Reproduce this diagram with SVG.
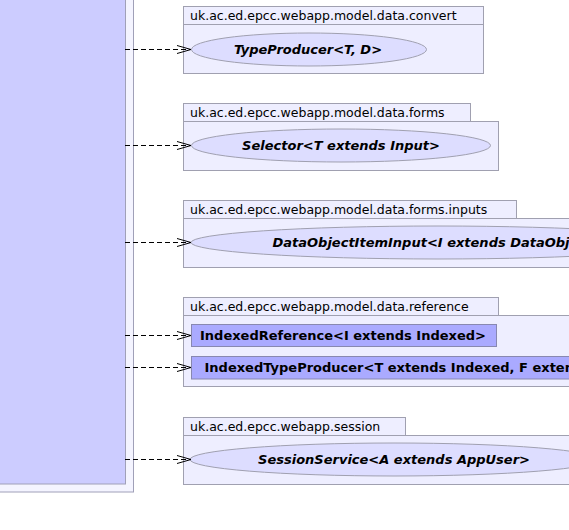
<svg xmlns="http://www.w3.org/2000/svg" width="569" height="530" viewBox="0 0 569 530">
<defs>
<style>
.bg{fill:#ffffff}
.outer{fill:#f4f4ff;stroke:#a0a0b8;stroke-width:1}
.inner{fill:#ccccff;stroke:#a0a0b8;stroke-width:1}
.pkg{fill:#eeeeff;stroke:#a0a0b0;stroke-width:1}
.uc{fill:#ddddff;stroke:#a0a0b0;stroke-width:1}
.cls{fill:#aaaaff;stroke:#8888b0;stroke-width:1}
.plabel{font-family:"DejaVu Sans","Liberation Sans",sans-serif;font-size:12.5px;fill:#000}
.ulabel{font-family:"DejaVu Sans","Liberation Sans",sans-serif;font-size:13px;font-weight:bold;font-style:italic;fill:#000}
.clabel{font-family:"DejaVu Sans","Liberation Sans",sans-serif;font-size:13px;font-weight:bold;fill:#000}
.dep{fill:none;stroke:#000;stroke-width:1;stroke-dasharray:5,3}
</style>
<marker id="open" markerUnits="userSpaceOnUse" markerWidth="18" markerHeight="12" refX="15" refY="5" orient="auto">
<path d="M1,1 L15,5 L1,9" fill="none" stroke="#000" stroke-width="1"/>
</marker>
</defs>
<rect class="bg" x="0" y="0" width="569" height="530"/>
<g id="source">
<rect class="outer" x="-10" y="-10" width="143.5" height="502"/>
<rect class="inner" x="-10" y="-10" width="135.5" height="494"/>
</g>
<g id="pkg-convert">
<rect class="pkg" x="183.5" y="6.5" width="300" height="18"/>
<rect class="pkg" x="183.5" y="24.5" width="300" height="49"/>
<text class="plabel" x="190" y="20">uk.ac.ed.epcc.webapp.model.data.convert</text>
</g>
<g id="TypeProducer">
<ellipse class="uc" cx="309" cy="49.5" rx="117.5" ry="16.5"/>
<text class="ulabel" x="308" y="54" text-anchor="middle">TypeProducer&lt;T, D&gt;</text>
</g>
<g id="pkg-forms">
<rect class="pkg" x="183.5" y="103.5" width="287" height="18"/>
<rect class="pkg" x="183.5" y="121.5" width="315" height="49"/>
<text class="plabel" x="190" y="117">uk.ac.ed.epcc.webapp.model.data.forms</text>
</g>
<g id="Selector">
<ellipse class="uc" cx="341" cy="145.5" rx="149.5" ry="16.5"/>
<text class="ulabel" x="341" y="150" text-anchor="middle">Selector&lt;T extends Input&gt;</text>
</g>
<g id="pkg-inputs">
<rect class="pkg" x="183.5" y="200.5" width="333" height="18"/>
<rect class="pkg" x="183.5" y="218.5" width="420" height="49"/>
<text class="plabel" x="190" y="214">uk.ac.ed.epcc.webapp.model.data.forms.inputs</text>
</g>
<g id="DataObjectItemInput">
<ellipse class="uc" cx="438" cy="242.5" rx="247" ry="16.5"/>
<text class="ulabel" x="272.5" y="247">DataObjectItemInput&lt;I extends DataObject&gt;</text>
</g>
<g id="pkg-reference">
<rect class="pkg" x="183.5" y="297.5" width="315" height="18"/>
<rect class="pkg" x="183.5" y="315.5" width="420" height="71"/>
<text class="plabel" x="190" y="311">uk.ac.ed.epcc.webapp.model.data.reference</text>
</g>
<g id="IndexedReference">
<rect class="cls" x="191.5" y="324.5" width="305" height="22"/>
<text class="clabel" x="200" y="340">IndexedReference&lt;I extends Indexed&gt;</text>
</g>
<g id="IndexedTypeProducer">
<rect class="cls" x="191.5" y="356.5" width="420" height="22.5"/>
<text class="clabel" x="204.5" y="372">IndexedTypeProducer&lt;T extends Indexed, F extends IndexedProducer&lt;T&gt;&gt;</text>
</g>
<g id="pkg-session">
<rect class="pkg" x="183.5" y="417.5" width="222" height="18"/>
<rect class="pkg" x="183.5" y="435.5" width="420" height="49"/>
<text class="plabel" x="190" y="431">uk.ac.ed.epcc.webapp.session</text>
</g>
<g id="SessionService">
<ellipse class="uc" cx="394" cy="459.5" rx="204" ry="16.5"/>
<text class="ulabel" x="394" y="464" text-anchor="middle">SessionService&lt;A extends AppUser&gt;</text>
</g>
<g id="connectors">
<line class="dep" x1="125" y1="49.5" x2="191" y2="49.5" marker-end="url(#open)"/>
<line class="dep" x1="125" y1="145.5" x2="191" y2="145.5" marker-end="url(#open)"/>
<line class="dep" x1="125" y1="242.5" x2="191" y2="242.5" marker-end="url(#open)"/>
<line class="dep" x1="125" y1="335.5" x2="191" y2="335.5" marker-end="url(#open)"/>
<line class="dep" x1="125" y1="367.5" x2="191" y2="367.5" marker-end="url(#open)"/>
<line class="dep" x1="125" y1="459.5" x2="191" y2="459.5" marker-end="url(#open)"/>
</g>
</svg>
